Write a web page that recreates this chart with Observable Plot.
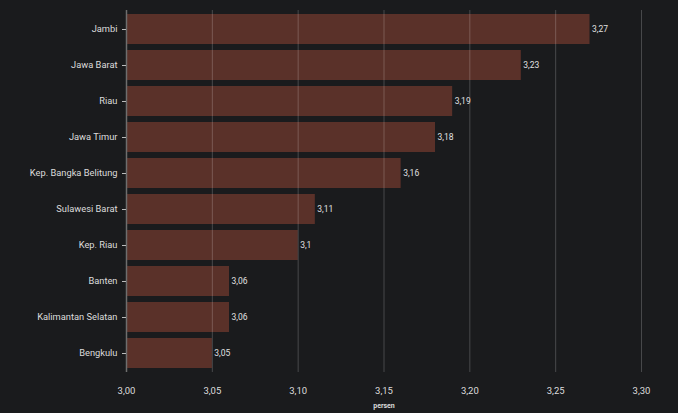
<!DOCTYPE html>
<html>
<head>
<meta charset="utf-8">
<script src="https://cdn.jsdelivr.net/npm/d3@7"></script>
<script src="https://cdn.jsdelivr.net/npm/@observablehq/plot@0.6"></script>
<style>
  html, body { margin: 0; padding: 0; background: #1a1b1d; }
  #chart { width: 678px; height: 413px; }
</style>
</head>
<body>
<div id="chart"></div>
<script>
const provinces = ["Jambi", "Jawa Barat", "Riau", "Jawa Timur", "Kep. Bangka Belitung", "Sulawesi Barat", "Kep. Riau", "Banten", "Kalimantan Selatan", "Bengkulu"];
const values = [3.27, 3.23, 3.19, 3.18, 3.16, 3.11, 3.10, 3.06, 3.06, 3.05];
const xTicks = [3.00, 3.05, 3.10, 3.15, 3.20, 3.25, 3.30];
const xLabel = "persen";

const data = provinces.map((p, i) => ({province: p, value: values[i]}));
const comma = v => String(v).replace(".", ",");
const comma2 = v => v.toFixed(2).replace(".", ",");

const chart = Plot.plot({
  width: 678,
  height: 413,
  marginLeft: 126,
  marginRight: 37,
  marginTop: 10,
  marginBottom: 41,
  style: {background: "#1a1b1d", color: "#dcdcdc", fontFamily: "Roboto, sans-serif", fontSize: "9.3px"},
  x: {domain: [3.0, 3.3], ticks: xTicks, tickFormat: comma2},
  y: {domain: provinces, paddingInner: 0.17, paddingOuter: 0.085},
  marks: [
    Plot.barX(data, {x1: 3.0, x2: "value", y: "province", fill: "#5a3129"}),
    Plot.ruleX(xTicks.slice(1), {stroke: "#ffffff", strokeOpacity: 0.2}),
    Plot.ruleX([3.0], {stroke: "#6e6e6e", strokeWidth: 1.5}),
    Plot.text(data, {x: "value", y: "province", text: d => comma(d.value), textAnchor: "start", dx: 2, fill: "#e0e0e0", fontSize: 8.5}),
    Plot.axisY({tickSize: 4, tickPadding: 5, label: null, fontSize: 9.3, stroke: "#bbb", color: "#dcdcdc"}),
    Plot.axisX({ticks: xTicks, tickFormat: comma2, tickSize: 0, tickPadding: 15, fontSize: 9.5, label: null}),
    Plot.text([xLabel], {frameAnchor: "bottom", dy: 35, fontSize: 7, fontWeight: "bold", fill: "#dcdcdc"})
  ]
});
document.getElementById("chart").appendChild(chart);
</script>
</body>
</html>
